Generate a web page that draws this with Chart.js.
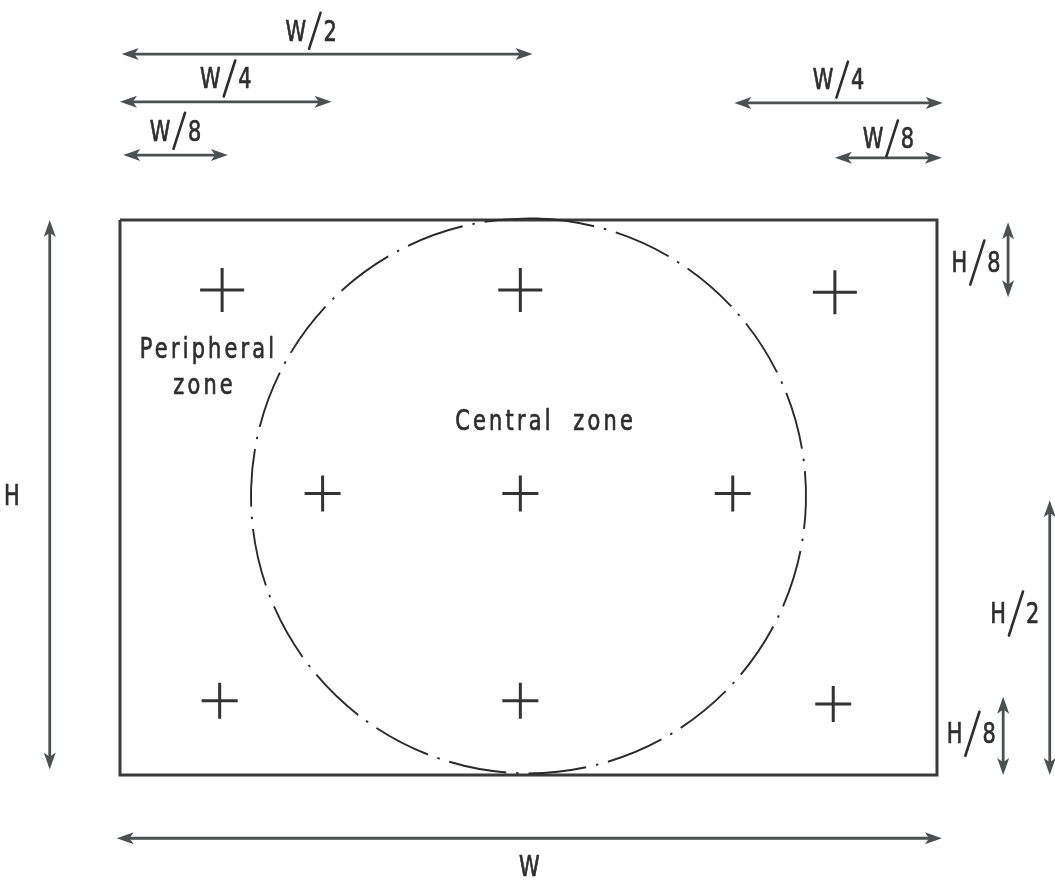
<!DOCTYPE html>
<html><head><meta charset="utf-8">
<script src="https://cdn.jsdelivr.net/npm/chart.js@4"></script>
<style>html,body{margin:0;padding:0;background:#fff;overflow:hidden;}#wrap{width:1055px;height:886px;position:relative;}</style>
</head><body><div id="wrap"><canvas id="c"></canvas></div>
<script>
// ---- data (x in units of W from the left edge, y in units of H downward from the top edge) ----
const rectX = [0, 1, 1, 0, 0];
const rectY = [0, 0, 1, 1, 0];
// measurement points
const crossX = [0.125, 0.49, 0.875, 0.248, 0.49, 0.75, 0.122, 0.49, 0.873];
const crossY = [0.126, 0.126, 0.13, 0.493, 0.493, 0.493, 0.866, 0.866, 0.872];
// central zone circle (centre in W,H; radius in H)
const circleCenter = [0.5, 0.497];
const circleRadiusH = 0.5;
// horizontal dimension arrows
const hArrowLabels = ['W/2', 'W/4', 'W/8', 'W/4', 'W/8', 'W'];
const hArrowFrom = [0.002, 0.0, 0.004, 0.752, 0.875, -0.004];
const hArrowTo   = [0.505, 0.259, 0.132, 1.007, 1.006, 1.006];
const hArrowAt   = [-0.299, -0.213, -0.117, -0.211, -0.112, 1.114];
// vertical dimension arrows
const vArrowLabels = ['H', 'H/8', 'H/8', 'H/2'];
const vArrowFrom = [0.0, 0.004, 0.859, 0.505];
const vArrowTo   = [0.99, 0.139, 1.0, 1.0];
const vArrowAt   = [-0.086, 1.087, 1.081, 1.138];
// zone labels
const zoneLabels = ['Peripheral', 'zone', 'Central  zone'];
const zoneLabelX = [0.1065, 0.1016, 0.519];
const zoneLabelY = [0.23, 0.294, 0.3586];

// ---- styles ----
const X_MIN = -0.14688, X_MAX = 1.14443, Y_MIN = -0.3964, Y_MAX = 1.2;
const INK = '#2e2e2e', ARROW = '#4b5151';
const FONT = '"DejaVu Sans Condensed", "DejaVu Sans", sans-serif';
const FS = 29, SX = 0.8, CAP = 0.729;
const hLabelOffset = [-24, -24, -25, -24, -20, 27]; // px from arrow line (cap centre)
const hLabelShift  = [-16, 0, 0, 0, 0, 0];
const vLabelOffset = [-38, -32, -32, -35];
const vLabelShift  = [0, 2, -3, -25];
const slashLen = { W: 36, H: 44 };

function arrowHead(ctx, x, y, dx, dy) {
  const len = 17, hw = 6;
  const px = -dy, py = dx;
  ctx.beginPath();
  ctx.moveTo(x, y);
  ctx.lineTo(x - dx * len + px * hw, y - dy * len + py * hw);
  ctx.lineTo(x - dx * len * 0.75, y - dy * len * 0.75);
  ctx.lineTo(x - dx * len - px * hw, y - dy * len - py * hw);
  ctx.closePath();
  ctx.fill();
}

function textW(ctx, s) {
  return (ctx.measureText(s).width) * SX;
}

// draws text whose cap-height centre is at (cx, cy), condensed horizontally
function drawText(ctx, s, cx, cy, spacing) {
  ctx.save();
  ctx.translate(cx, cy + FS * CAP / 2);
  ctx.scale(SX, 1);
  try { ctx.letterSpacing = spacing + 'px'; } catch (e) {}
  ctx.textAlign = 'center'; ctx.textBaseline = 'alphabetic';
  ctx.fillStyle = INK; ctx.strokeStyle = INK; ctx.lineWidth = 0.7;
  ctx.fillText(s, spacing / 2, 0);
  ctx.strokeText(s, spacing / 2, 0);
  ctx.restore();
}

function drawFraction(ctx, label, cx, cy) {
  const parts = label.split('/');
  if (parts.length < 2) { drawText(ctx, label, cx, cy, 0); return; }
  ctx.save();
  ctx.font = FS + 'px ' + FONT;
  try { ctx.letterSpacing = '0px'; } catch (e) {}
  const wl = textW(ctx, parts[0]), wr = textW(ctx, parts[1]);
  const h = slashLen[parts[0]] || 36, sw = h * 0.32, g = 3;
  const total = wl + g + sw + g + wr;
  let x = cx - total / 2;
  drawText(ctx, parts[0], x + wl / 2, cy, 0);
  x += wl + g;
  ctx.strokeStyle = INK; ctx.lineWidth = 2.6; ctx.lineCap = 'round';
  ctx.beginPath();
  ctx.moveTo(x, cy + h * 0.52);
  ctx.lineTo(x + sw, cy - h * 0.48);
  ctx.stroke();
  x += sw + g;
  drawText(ctx, parts[1], x + wr / 2, cy, 0);
  ctx.restore();
}

const diagramPlugin = {
  id: 'diagram',
  afterDatasetsDraw(chart) {
    const ctx = chart.ctx, xs = chart.scales.x, ys = chart.scales.y;
    ctx.save();
    // circle
    const cx = xs.getPixelForValue(circleCenter[0]);
    const cy = ys.getPixelForValue(circleCenter[1]);
    const r = Math.abs(ys.getPixelForValue(circleCenter[1] + circleRadiusH) - cy);
    ctx.strokeStyle = '#2a2a2a';
    ctx.lineWidth = 1.9;
    ctx.setLineDash([58, 10, 2.5, 10]);
    ctx.beginPath();
    ctx.arc(cx, cy, r, -Math.PI / 2 + 0.03, 1.5 * Math.PI + 0.03);
    ctx.stroke();
    ctx.setLineDash([]);
    // arrows
    ctx.strokeStyle = ARROW; ctx.fillStyle = ARROW; ctx.lineWidth = 2.8;
    for (let i = 0; i < hArrowLabels.length; i++) {
      const x1 = xs.getPixelForValue(hArrowFrom[i]), x2 = xs.getPixelForValue(hArrowTo[i]);
      const y = ys.getPixelForValue(hArrowAt[i]);
      ctx.beginPath(); ctx.moveTo(x1 + 10, y); ctx.lineTo(x2 - 10, y); ctx.stroke();
      arrowHead(ctx, x1, y, -1, 0); arrowHead(ctx, x2, y, 1, 0);
    }
    for (let i = 0; i < vArrowLabels.length; i++) {
      const y1 = ys.getPixelForValue(vArrowFrom[i]), y2 = ys.getPixelForValue(vArrowTo[i]);
      const x = xs.getPixelForValue(vArrowAt[i]);
      ctx.beginPath(); ctx.moveTo(x, y1 + 10); ctx.lineTo(x, y2 - 10); ctx.stroke();
      arrowHead(ctx, x, y1, 0, -1); arrowHead(ctx, x, y2, 0, 1);
    }
    // labels
    ctx.font = FS + 'px ' + FONT;
    for (let i = 0; i < hArrowLabels.length; i++) {
      const x1 = xs.getPixelForValue(hArrowFrom[i]), x2 = xs.getPixelForValue(hArrowTo[i]);
      const y = ys.getPixelForValue(hArrowAt[i]);
      drawFraction(ctx, hArrowLabels[i], (x1 + x2) / 2 + hLabelShift[i], y + hLabelOffset[i]);
    }
    for (let i = 0; i < vArrowLabels.length; i++) {
      const y1 = ys.getPixelForValue(vArrowFrom[i]), y2 = ys.getPixelForValue(vArrowTo[i]);
      const x = xs.getPixelForValue(vArrowAt[i]);
      drawFraction(ctx, vArrowLabels[i], x + vLabelOffset[i], (y1 + y2) / 2 + vLabelShift[i]);
    }
    for (let i = 0; i < zoneLabels.length; i++) {
      drawText(ctx, zoneLabels[i], xs.getPixelForValue(zoneLabelX[i]), ys.getPixelForValue(zoneLabelY[i]), 4);
    }
    ctx.restore();
  }
};

new Chart(document.getElementById('c'), {
  type: 'scatter',
  data: {
    datasets: [
      {
        type: 'line',
        data: rectX.map((x, i) => ({ x, y: rectY[i] })),
        borderColor: '#3a3a3a', borderWidth: 3, pointRadius: 0, tension: 0, fill: false
      },
      {
        data: crossX.map((x, i) => ({ x, y: crossY[i] })),
        pointStyle: 'cross', pointRadius: [22, 22, 22, 18, 18, 18, 18, 18, 18],
        borderColor: '#333', borderWidth: 3, backgroundColor: '#333'
      }
    ]
  },
  options: {
    responsive: true, maintainAspectRatio: false, animation: false,
    layout: { padding: 0, autoPadding: false },
    plugins: { legend: { display: false }, tooltip: { enabled: false } },
    scales: {
      x: { type: 'linear', min: X_MIN, max: X_MAX, display: false },
      y: { type: 'linear', min: Y_MIN, max: Y_MAX, reverse: true, display: false }
    }
  },
  plugins: [diagramPlugin]
});
</script>
</body></html>
